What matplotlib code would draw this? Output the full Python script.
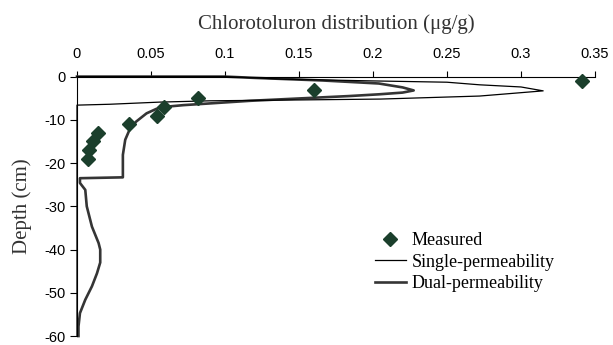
import matplotlib
matplotlib.use("Agg")
import matplotlib.pyplot as plt

# ---- data -------------------------------------------------------------------
meas_conc  = [0.341, 0.160, 0.082, 0.059, 0.054, 0.035, 0.014, 0.011, 0.008, 0.0076]
meas_depth = [-1, -3, -5, -7, -9, -11, -13, -15, -17, -19]

single_conc  = [0.0, 0.1, 0.14, 0.2, 0.25, 0.272, 0.30, 0.315,
                0.29, 0.272, 0.205, 0.15, 0.09, 0.056, 0.022, 0.0, 0.0]
single_depth = [0.0, 0.0, -0.6, -1.0, -1.3, -1.9, -2.4, -3.3,
                -4.0, -4.5, -5.2, -5.4, -5.6, -5.9, -6.4, -6.6, -60.0]

dual_conc  = [0.0, 0.1, 0.12, 0.166, 0.204, 0.22, 0.2275, 0.22, 0.204, 0.184,
              0.117, 0.072, 0.056, 0.047, 0.040, 0.036, 0.0326, 0.031, 0.031,
              0.002, 0.002, 0.0056, 0.0066, 0.0101, 0.0146, 0.0157, 0.0157,
              0.0135, 0.0101, 0.0056, 0.002, 0.001, 0.001]
dual_depth = [0.0, 0.0, -0.3, -0.9, -1.6, -2.5, -3.2, -3.7, -4.1, -4.5,
              -5.6, -6.6, -7.1, -8.5, -10.4, -11.9, -14.6, -18.1, -23.3,
              -23.5, -24.6, -26.2, -30.0, -34.7, -38.5, -40.0, -43.0,
              -45.5, -48.5, -51.6, -54.7, -57.8, -60.0]

xticks = [0, 0.05, 0.1, 0.15, 0.2, 0.25, 0.3, 0.35]
xticklabels = ["0", "0.05", "0.1", "0.15", "0.2", "0.25", "0.3", "0.35"]
yticks = [0, -10, -20, -30, -40, -50, -60]

SERIF = ["Liberation Serif", "DejaVu Serif"]
SANS = ["Liberation Sans", "DejaVu Sans"]

fig = plt.figure(figsize=(6.13, 3.45), dpi=100)
ax = fig.add_axes([0.1256, 0.026, 0.845, 0.752])

ax.plot(single_conc, single_depth, color="#000000", lw=0.9,
        label="Single-permeability", zorder=3, clip_on=False)
ax.plot(dual_conc, dual_depth, color="#353535", lw=1.9,
        label="Dual-permeability", zorder=2, clip_on=False)
ax.plot(meas_conc, meas_depth, ls="none", marker="D", ms=7,
        color="#1b3f2c", mec="#1b3f2c", label="Measured", zorder=4, clip_on=False)

ax.set_xlim(0, 0.35)
ax.set_ylim(-60, 0)
ax.xaxis.tick_top()
ax.xaxis.set_label_position("top")
ax.set_xticks(xticks)
ax.set_xticklabels(xticklabels, family=SANS, fontsize=10.5)
ax.set_yticks(yticks)
ax.set_yticklabels([str(v) for v in yticks], family=SANS, fontsize=10.5)
ax.tick_params(axis="x", direction="out", length=4, width=0.8, pad=7)
ax.tick_params(axis="y", direction="out", length=5, width=0.8, pad=3)

for side in ("bottom", "right"):
    ax.spines[side].set_visible(False)
for side in ("top", "left"):
    ax.spines[side].set_linewidth(0.8)

ax.set_xlabel("Chlorotoluron distribution (\u03bcg/g)", family=SERIF,
              fontsize=15, color="#333333", labelpad=13)
ax.set_ylabel("Depth (cm)", family=SERIF, fontsize=15, color="#333333",
              labelpad=9)

handles, labels = ax.get_legend_handles_labels()
order = [2, 0, 1]
ax.legend([handles[i] for i in order], [labels[i] for i in order],
          loc="upper left", bbox_to_anchor=(0.575, 0.40), frameon=False,
          prop={"family": SERIF, "size": 13}, handlelength=1.7,
          labelspacing=0.25, borderpad=0.0, borderaxespad=0.0,
          handletextpad=0.35)

fig.savefig("out.png", dpi=100)
